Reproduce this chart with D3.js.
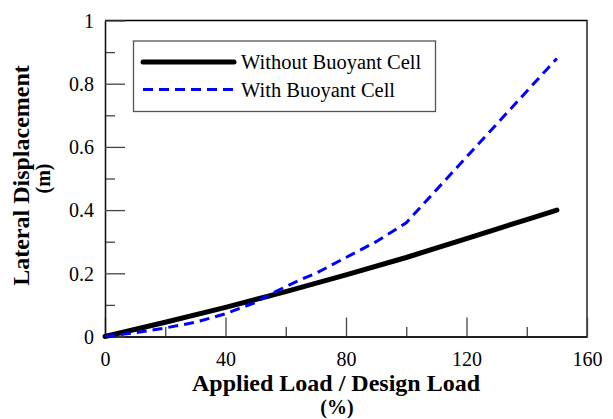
<!DOCTYPE html>
<html>
<head>
<meta charset="utf-8">
<script src="https://cdn.jsdelivr.net/npm/d3@7"></script>
<style>
  html, body { margin: 0; padding: 0; background: #fff; }
  svg { display: block; }
</style>
</head>
<body>
<div id="chart"></div>
<script>
// Applied load as % of design load
const loadWithout = [0, 20, 40, 60, 80, 100, 120, 140, 150];
const dispWithout = [0, 0.045, 0.092, 0.142, 0.195, 0.25, 0.31, 0.37, 0.40];

const loadWith = [0, 10, 20, 30, 40, 50, 55, 65, 70, 80, 90, 100, 150];
const dispWith = [0, 0.012, 0.027, 0.045, 0.072, 0.108, 0.135, 0.18, 0.20, 0.25, 0.30, 0.36, 0.88];

const seriesNames = ["Without Buoyant Cell", "With Buoyant Cell"];
const xMajorTicks = [0, 40, 80, 120, 160];
const xMinorTicks = [20, 60, 100, 140];
const yMajorTicks = [0, 0.2, 0.4, 0.6, 0.8, 1];
const yMinorTicks = [0.1, 0.3, 0.5, 0.7, 0.9];

const SERIF = '"Liberation Serif", "Times New Roman", Times, serif';
const W = 613, H = 419;
const plot = { left: 105, right: 587, top: 20.5, bottom: 336.5 };

const svg = d3.select("#chart").append("svg")
  .attr("width", W).attr("height", H)
  .attr("font-family", SERIF);

const x = d3.scaleLinear().domain([0, 160]).range([plot.left, plot.right]);
const y = d3.scaleLinear().domain([0, 1]).range([plot.bottom, plot.top]);

// Frame: top and right edges
svg.append("path")
  .attr("d", `M${plot.left},${plot.top}H${plot.right}V${plot.bottom}`)
  .attr("fill", "none").attr("stroke", "#000").attr("stroke-width", 1.3);

// Axes with inward ticks
const tickColor = "#444";
const xAxisMajor = d3.axisBottom(x).tickValues(xMajorTicks).tickSizeInner(-19).tickSizeOuter(0)
  .tickFormat(d3.format("d"));
const xAxisMinor = d3.axisBottom(x).tickValues(xMinorTicks).tickSizeInner(-9.5).tickSizeOuter(0)
  .tickFormat("");
const yAxisMajor = d3.axisLeft(y).tickValues(yMajorTicks).tickSizeInner(-20).tickSizeOuter(0)
  .tickFormat(d => d === 0 || d === 1 ? String(d) : d3.format(".1f")(d));
const yAxisMinor = d3.axisLeft(y).tickValues(yMinorTicks).tickSizeInner(-10).tickSizeOuter(0)
  .tickFormat("");

function styleAxis(g) {
  g.attr("font-family", SERIF).attr("font-size", 20);
  g.select(".domain").attr("stroke", "#111").attr("stroke-width", 1.3);
  g.selectAll(".tick line").attr("stroke", tickColor).attr("stroke-width", 1.3);
  g.selectAll(".tick text").attr("fill", "#000").attr("font-family", SERIF).attr("font-size", 20);
}

svg.append("g").attr("transform", `translate(0,${plot.bottom})`).call(xAxisMinor).call(styleAxis);
svg.append("g").attr("transform", `translate(0,${plot.bottom})`).call(xAxisMajor).call(styleAxis)
  .selectAll(".tick text").attr("y", 29.5).attr("dy", 0);
svg.append("g").attr("transform", `translate(${plot.left},0)`).call(yAxisMinor).call(styleAxis);
svg.append("g").attr("transform", `translate(${plot.left},0)`).call(yAxisMajor).call(styleAxis)
  .selectAll(".tick text").attr("x", -11).attr("dy", "0.34em");

// Data lines
const line = d3.line().x(d => x(d[0])).y(d => y(d[1]));
const withoutPts = loadWithout.map((v, i) => [v, dispWithout[i]]);
const withPts = loadWith.map((v, i) => [v, dispWith[i]]);

svg.append("path").datum(withoutPts).attr("d", line)
  .attr("fill", "none").attr("stroke", "#000").attr("stroke-width", 5)
  .attr("stroke-linecap", "round").attr("stroke-linejoin", "round");
svg.append("path").datum(withPts).attr("d", line)
  .attr("fill", "none").attr("stroke", "#0000ff").attr("stroke-width", 3)
  .attr("stroke-dasharray", "10,6");

// Legend
const legend = svg.append("g");
legend.append("rect").attr("x", 133.5).attr("y", 41).attr("width", 302).attr("height", 70.5)
  .attr("fill", "#fff").attr("stroke", "#555").attr("stroke-width", 1.3);
const legendRows = [
  { name: seriesNames[0], y: 62, stroke: "#000", width: 5, dash: null, cap: "round" },
  { name: seriesNames[1], y: 89.5, stroke: "#0000ff", width: 3, dash: "10,6", cap: "butt" }
];
legendRows.forEach(r => {
  legend.append("line").attr("x1", 143).attr("x2", 234).attr("y1", r.y).attr("y2", r.y)
    .attr("stroke", r.stroke).attr("stroke-width", r.width)
    .attr("stroke-dasharray", r.dash).attr("stroke-linecap", r.cap);
  legend.append("text").attr("x", 241).attr("y", r.y + 7)
    .attr("font-family", SERIF).attr("font-size", 20.5).text(r.name);
});

// Axis titles
svg.append("text").attr("x", 336).attr("y", 390.5).attr("text-anchor", "middle")
  .attr("font-family", SERIF).attr("font-size", 24).attr("font-weight", "bold")
  .text("Applied Load / Design Load");
svg.append("text").attr("x", 337).attr("y", 414).attr("text-anchor", "middle")
  .attr("font-family", SERIF).attr("font-size", 20).attr("font-weight", "bold").text("(%)");

svg.append("text").attr("transform", "translate(28.5,175.5) rotate(-90)").attr("text-anchor", "middle")
  .attr("font-family", SERIF).attr("font-size", 24).attr("font-weight", "bold")
  .text("Lateral Displacement");
svg.append("text").attr("transform", "translate(50,178.5) rotate(-90)").attr("text-anchor", "middle")
  .attr("font-family", SERIF).attr("font-size", 20).attr("font-weight", "bold").text("(m)");
</script>
</body>
</html>
